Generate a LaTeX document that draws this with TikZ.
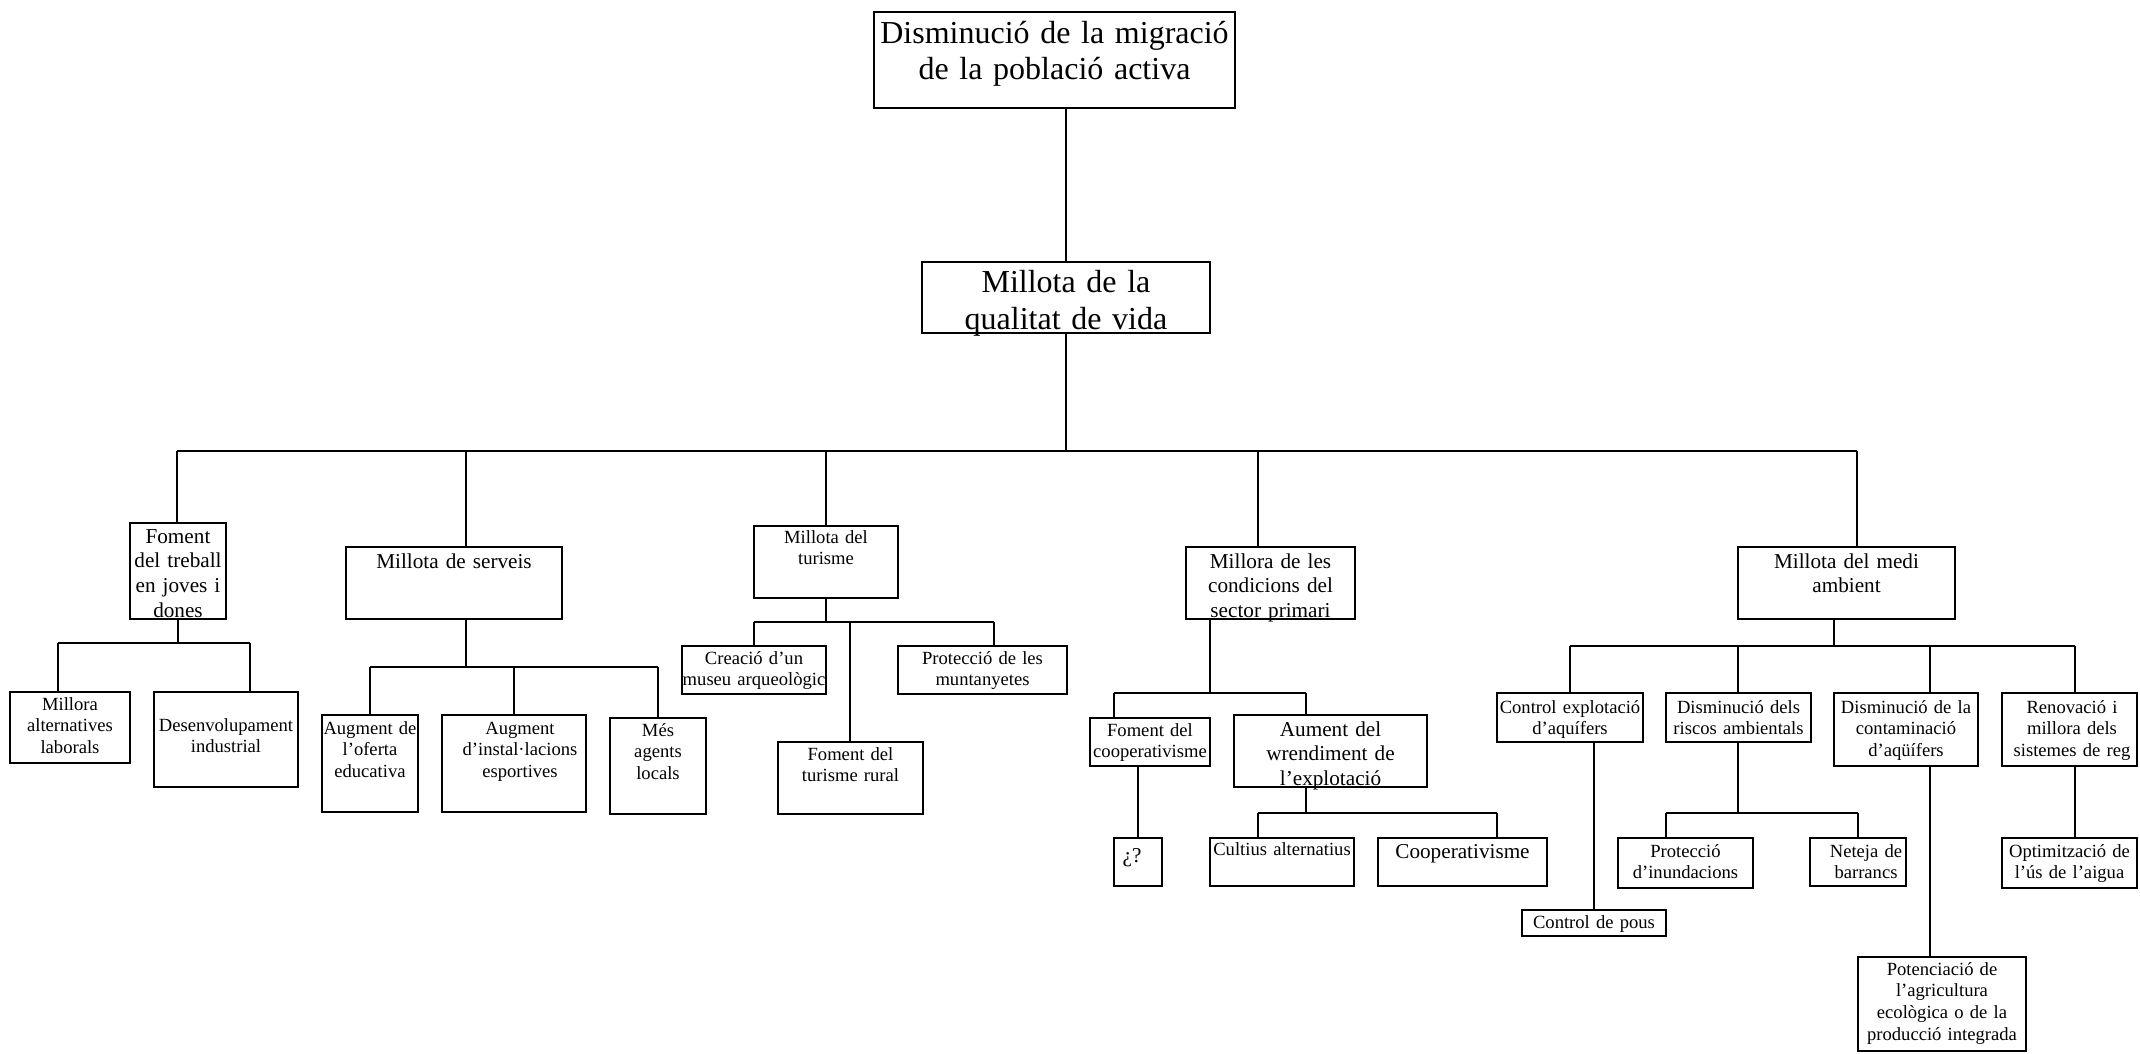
\documentclass[tikz,border=0pt]{standalone}
\usepackage{fontspec}
\setmainfont{Liberation Serif}
\tikzset{
  bx/.style={draw, line width=1.5pt, inner sep=0pt, outer sep=0pt, rectangle},
  cn/.style={line width=1.3pt},
  txt/.style={anchor=base, inner sep=0pt, outer sep=0pt, align=center, text width=420pt},
  fS/.style={font=\fontsize{18.6}{21.7}\selectfont},
  fM/.style={font=\fontsize{21.2}{24.7}\selectfont},
  fL/.style={font=\fontsize{32}{36.5}\selectfont},
}
\newcommand\mkbox[5]{\node[bx, minimum width={(#4)-(#2)}, minimum height={(#5)-(#3)}] (#1) at ({((#2)+(#4))/2},{((#3)+(#5))/2}) {};}
\newcommand\mktext[5]{\node[txt,#2] (#1) at (#3,#4) {#5};}
\begin{document}
\begin{tikzpicture}[x=1pt,y=-1pt]
\fill[white] (0,0) rectangle (2140,1053);
\useasboundingbox (0,0) rectangle (2140,1053);
% boxes
\mkbox{top}{874}{12}{1235}{108}
\mkbox{qual}{922}{262}{1210}{333}
\mkbox{fom}{130}{523}{226}{619}
\mkbox{mill}{10}{692}{130}{763}
\mkbox{des}{154}{692}{298}{787}
\mkbox{serv}{346}{547}{562}{619}
\mkbox{aug1}{322}{715}{418}{812}
\mkbox{aug2}{442}{715}{586}{812}
\mkbox{mes}{610}{718}{706}{814}
\mkbox{tur}{754}{526}{898}{598}
\mkbox{crea}{682}{646}{826}{694}
\mkbox{prot}{898}{646}{1067}{694}
\mkbox{rural}{778}{742}{923}{814}
\mkbox{cond}{1186}{547}{1355}{619}
\mkbox{fcoop}{1090}{718}{1210}{766}
\mkbox{aum}{1234}{715}{1427}{787}
\mkbox{q}{1114}{838}{1162}{886}
\mkbox{cult}{1210}{838}{1354}{886}
\mkbox{coop}{1378}{838}{1547}{886}
\mkbox{medi}{1738}{547}{1955}{619}
\mkbox{ctrl}{1497}{693}{1643}{742}
\mkbox{risc}{1666}{693}{1811}{742}
\mkbox{cont}{1834}{693}{1978}{766}
\mkbox{ren}{2002}{693}{2137}{766}
\mkbox{pous}{1522}{910}{1666}{936}
\mkbox{inun}{1618}{838}{1753}{888}
\mkbox{net}{1810}{838}{1906}{886}
\mkbox{opt}{2002}{838}{2137}{888}
\mkbox{pot}{1858}{957}{2026}{1051}
% texts
\mktext{topT}{fL}{1054.5}{43}{Disminució de la migració\\de la població activa}
\mktext{qualT}{fL}{1066}{292.5}{Millota de la\\qualitat de vida}
\mktext{fomT}{fM}{178}{543}{Foment\\del treball\\en joves i\\dones}
\mktext{millT}{fS}{70}{710}{Millora\\alternatives\\laborals}
\mktext{desT}{fS}{226}{731}{Desenvolupament\\industrial}
\mktext{servT}{fM}{454}{568}{Millota de serveis}
\mktext{aug1T}{fS}{370}{734}{Augment de\\l’oferta\\educativa}
\mktext{aug2T}{fS}{520}{734}{Augment\\d’instal·lacions\\esportives}
\mktext{mesT}{fS}{658}{736}{Més\\agents\\locals}
\mktext{turT}{fS}{826}{543}{Millota del\\turisme}
\mktext{creaT}{fS}{754}{664}{Creació d’un\\museu arqueològic}
\mktext{protT}{fS}{982.5}{664}{Protecció de les\\muntanyetes}
\mktext{ruralT}{fS}{850.5}{760}{Foment del\\turisme rural}
\mktext{condT}{fM}{1270.5}{568}{Millora de les\\condicions del\\sector primari}
\mktext{fcoopT}{fS}{1150}{736}{Foment del\\cooperativisme}
\mktext{aumT}{fM}{1330.5}{736}{Aument del\\wrendiment de\\l’explotació}
\mktext{qT}{fM}{1132}{862}{¿?}
\mktext{cultT}{fS}{1282}{855}{Cultius alternatius}
\mktext{coopT}{fM}{1462.5}{858}{Cooperativisme}
\mktext{mediT}{fM}{1846.5}{568}{Millota del medi\\ambient}
\mktext{ctrlT}{fS}{1570}{713}{Control explotació\\d’aquífers}
\mktext{riscT}{fS}{1738.5}{713}{Disminució dels\\riscos ambientals}
\mktext{contT}{fS}{1906}{713}{Disminució de la\\contaminació\\d’aqüífers}
\mktext{renT}{fS}{2072}{713}{Renovació i\\millora dels\\sistemes de reg}
\mktext{inunT}{fS}{1685.5}{857}{Protecció\\d’inundacions}
\mktext{netT}{fS}{1866}{857}{Neteja de\\barrancs}
\mktext{optT}{fS}{2069.5}{857}{Optimització de\\l’ús de l’aigua}
\mktext{pousT}{fS}{1594}{928}{Control de pous}
\mktext{potT}{fS}{1942}{975}{Potenciació de\\l’agricultura\\ecològica o de la\\producció integrada}
% junction coordinates
\coordinate (j0) at (1066,451);
\coordinate (b1) at (177,451);
\coordinate (b2) at (466,451);
\coordinate (b3) at (826,451);
\coordinate (b4) at (1258,451);
\coordinate (b5) at (1857,451);
\coordinate (fL) at (58,643);
\coordinate (fR) at (250,643);
\coordinate (sT) at (466,667);
\coordinate (sL) at (370,667);
\coordinate (sM) at (514,667);
\coordinate (sR) at (658,667);
\coordinate (tL) at (754,622);
\coordinate (tM) at (850,622);
\coordinate (tR) at (994,622);
\coordinate (cT) at (1210,693);
\coordinate (cL) at (1114,693);
\coordinate (cR) at (1306,693);
\coordinate (aL) at (1258,813);
\coordinate (aR) at (1497,813);
\coordinate (mT) at (1834,646);
\coordinate (mL) at (1570,646);
\coordinate (m2) at (1738,646);
\coordinate (m3) at (1930,646);
\coordinate (mR) at (2075,646);
\coordinate (rL) at (1666,813);
\coordinate (rR) at (1858,813);
% connectors
\draw[cn] (qual.north) -- (qual.north |- top.south);
\draw[cn] (qual.south) -- (j0);
\draw[cn] (b1) -- (b5);
\draw[cn] (b1) -- (b1 |- fom.north);
\draw[cn] (b2) -- (b2 |- serv.north);
\draw[cn] (b3) -- (b3 |- tur.north);
\draw[cn] (b4) -- (b4 |- cond.north);
\draw[cn] (b5) -- (b5 |- medi.north);
% foment
\draw[cn] (fom.south) -- (fom.south |- fL);
\draw[cn] (fL) -- (fR);
\draw[cn] (fL) -- (fL |- mill.north);
\draw[cn] (fR) -- (fR |- des.north);
% serveis
\draw[cn] (sT |- serv.south) -- (sT);
\draw[cn] (sL) -- (sR);
\draw[cn] (sL) -- (sL |- aug1.north);
\draw[cn] (sM) -- (sM |- aug2.north);
\draw[cn] (sR) -- (sR |- mes.north);
% turisme
\draw[cn] (tur.south) -- (tur.south |- tL);
\draw[cn] (tL) -- (tR);
\draw[cn] (tL) -- (tL |- crea.north);
\draw[cn] (tR) -- (tR |- prot.north);
\draw[cn] (tM) -- (tM |- rural.north);
% sector primari
\draw[cn] (cT |- cond.south) -- (cT);
\draw[cn] (cL) -- (cR);
\draw[cn] (cL) -- (cL |- fcoop.north);
\draw[cn] (cR) -- (cR |- aum.north);
\draw[cn] (q.north |- fcoop.south) -- (q.north);
\draw[cn] (cR |- aum.south) -- (cR |- aL);
\draw[cn] (aL) -- (aR);
\draw[cn] (aL) -- (aL |- cult.north);
\draw[cn] (aR) -- (aR |- coop.north);
% medi ambient
\draw[cn] (mT |- medi.south) -- (mT);
\draw[cn] (mL) -- (mR);
\draw[cn] (mL) -- (mL |- ctrl.north);
\draw[cn] (m2) -- (m2 |- risc.north);
\draw[cn] (m3) -- (m3 |- cont.north);
\draw[cn] (mR) -- (mR |- ren.north);
\draw[cn] (pous.north |- ctrl.south) -- (pous.north);
\draw[cn] (m2 |- risc.south) -- (m2 |- rL);
\draw[cn] (rL) -- (rR);
\draw[cn] (rL) -- (rL |- inun.north);
\draw[cn] (rR) -- (rR |- net.north);
\draw[cn] (m3 |- cont.south) -- (m3 |- pot.north);
\draw[cn] (mR |- ren.south) -- (mR |- opt.north);
\end{tikzpicture}
\end{document}
